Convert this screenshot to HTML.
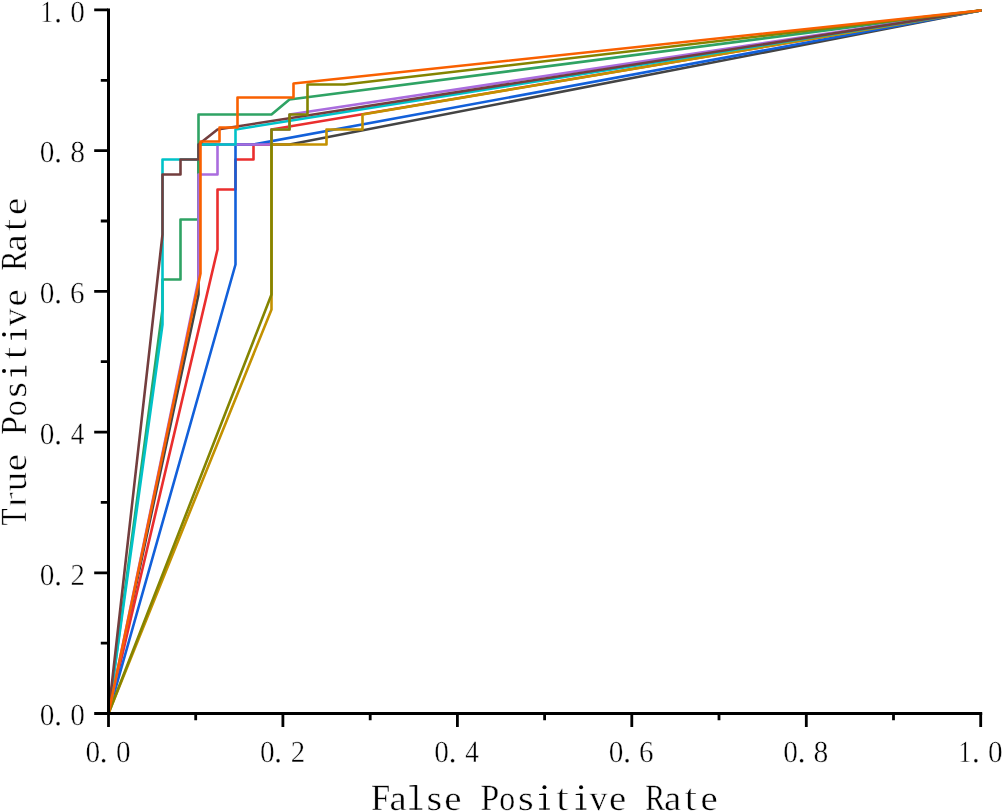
<!DOCTYPE html>
<html><head><meta charset="utf-8"><title>ROC</title>
<style>html,body{margin:0;padding:0;background:#fff;}svg{display:block;will-change:transform;}</style></head>
<body>
<svg width="1003" height="812" viewBox="0 0 1003 812">
<rect width="1003" height="812" fill="#fff"/>
<defs><clipPath id="pc"><rect x="108.5" y="0" width="900" height="713.5"/></clipPath></defs>
<g fill="none" stroke-width="2.6" stroke-linejoin="round" stroke-linecap="round" clip-path="url(#pc)">
<polyline stroke="#444444" points="108.5,713.5 198.5,294.5 198.5,144.5 289.5,144.5 980.5,10.5"/>
<polyline stroke="#EA2E2E" points="108.5,713.5 217.5,249.5 217.5,189.5 235.5,189.5 235.5,159.5 253.5,159.5 253.5,144.5 271.5,144.5 271.5,129.5 980.5,10.5"/>
<polyline stroke="#1260DA" points="108.5,713.5 235.5,264.5 235.5,144.5 253.5,144.5 980.5,10.5"/>
<polyline stroke="#2FA364" points="108.5,713.5 162.5,309.5 162.5,279.5 180.5,279.5 180.5,219.5 198.5,219.5 198.5,114.5 271.5,114.5 289.5,99.5 980.5,10.5"/>
<polyline stroke="#AA6CDE" points="108.5,713.5 198.5,279.5 198.5,174.5 217.5,174.5 217.5,144.5 271.5,144.5 271.5,129.5 289.5,129.5 289.5,114.5 980.5,10.5"/>
<polyline stroke="#C39100" points="108.5,713.5 271.5,309.5 271.5,144.5 326.5,144.5 326.5,129.5 362.5,129.5 362.5,114.5 980.5,10.5"/>
<polyline stroke="#00C2C8" points="108.5,713.5 162.5,324.5 162.5,159.5 198.5,159.5 198.5,144.5 235.5,144.5 235.5,129.5 980.5,10.5"/>
<polyline stroke="#733E3E" points="108.5,713.5 162.5,234.5 162.5,174.5 180.5,174.5 180.5,159.5 198.5,159.5 198.5,144.5 217.5,129.5 980.5,10.5"/>
<polyline stroke="#848400" points="108.5,713.5 271.5,294.5 271.5,129.5 289.5,129.5 289.5,114.5 307.5,114.5 307.5,84.5 344.5,84.5 980.5,10.5"/>
<polyline stroke="#F96000" points="108.5,713.5 200.5,273.5 200.5,141.5 219.5,141.5 219.5,127.5 237.5,127.5 237.5,97.5 293.5,97.5 293.5,83.5 980.5,10.5"/>
</g>
<g stroke="#000" fill="none">
<path stroke-width="3.0" d="M108.5,8.4 V715"/>
<path stroke-width="3.0" d="M107,713.5 H982.2"/>
<path stroke-width="2.8" d="M108.5,713 V727 M94.2,713.5 H108 M195.7,713 V720.3 M100.8,643.1 H108 M282.9,713 V727 M94.2,572.8 H108 M370.2,713 V720.3 M100.8,502.4 H108 M457.4,713 V727 M94.2,432.1 H108 M544.6,713 V720.3 M100.8,361.7 H108 M631.8,713 V727 M94.2,291.3 H108 M719.0,713 V720.3 M100.8,221.0 H108 M806.3,713 V727 M94.2,150.6 H108 M893.5,713 V720.3 M100.8,80.3 H108 M980.7,713 V727 M94.2,9.9 H108"/>
</g>
<g font-family="'Liberation Serif', serif" fill="#000" text-anchor="start" text-rendering="geometricPrecision">
<text transform="translate(85.49,761.90) scale(0.958,1)" font-size="30.6" stroke="#fff" stroke-width="0.4">0</text>
<text transform="translate(115.89,761.90) scale(0.958,1)" font-size="30.6" stroke="#fff" stroke-width="0.4">0</text>
<text transform="translate(99.87,761.90) scale(1.006,1)" font-size="30.6" stroke="#fff" stroke-width="0.2">.</text>
<text transform="translate(39.84,725.30) scale(0.958,1)" font-size="30.6" stroke="#fff" stroke-width="0.4">0</text>
<text transform="translate(70.24,725.30) scale(0.958,1)" font-size="30.6" stroke="#fff" stroke-width="0.4">0</text>
<text transform="translate(54.22,725.30) scale(1.006,1)" font-size="30.6" stroke="#fff" stroke-width="0.2">.</text>
<text transform="translate(259.93,761.90) scale(0.958,1)" font-size="30.6" stroke="#fff" stroke-width="0.4">0</text>
<text transform="translate(290.63,761.90) scale(0.940,1)" font-size="30.6" stroke="#fff" stroke-width="0.4">2</text>
<text transform="translate(274.31,761.90) scale(1.006,1)" font-size="30.6" stroke="#fff" stroke-width="0.2">.</text>
<text transform="translate(39.84,584.58) scale(0.958,1)" font-size="30.6" stroke="#fff" stroke-width="0.4">0</text>
<text transform="translate(70.53,584.58) scale(0.940,1)" font-size="30.6" stroke="#fff" stroke-width="0.4">2</text>
<text transform="translate(54.22,584.58) scale(1.006,1)" font-size="30.6" stroke="#fff" stroke-width="0.2">.</text>
<text transform="translate(434.37,761.90) scale(0.958,1)" font-size="30.6" stroke="#fff" stroke-width="0.4">0</text>
<text transform="translate(465.24,761.90) scale(0.889,1)" font-size="30.6" stroke="#fff" stroke-width="0.4">4</text>
<text transform="translate(448.75,761.90) scale(1.006,1)" font-size="30.6" stroke="#fff" stroke-width="0.2">.</text>
<text transform="translate(39.84,443.86) scale(0.958,1)" font-size="30.6" stroke="#fff" stroke-width="0.4">0</text>
<text transform="translate(70.71,443.86) scale(0.889,1)" font-size="30.6" stroke="#fff" stroke-width="0.4">4</text>
<text transform="translate(54.22,443.86) scale(1.006,1)" font-size="30.6" stroke="#fff" stroke-width="0.2">.</text>
<text transform="translate(608.81,761.90) scale(0.958,1)" font-size="30.6" stroke="#fff" stroke-width="0.4">0</text>
<text transform="translate(639.07,761.90) scale(0.951,1)" font-size="30.6" stroke="#fff" stroke-width="0.4">6</text>
<text transform="translate(623.19,761.90) scale(1.006,1)" font-size="30.6" stroke="#fff" stroke-width="0.2">.</text>
<text transform="translate(39.84,303.14) scale(0.958,1)" font-size="30.6" stroke="#fff" stroke-width="0.4">0</text>
<text transform="translate(70.10,303.14) scale(0.951,1)" font-size="30.6" stroke="#fff" stroke-width="0.4">6</text>
<text transform="translate(54.22,303.14) scale(1.006,1)" font-size="30.6" stroke="#fff" stroke-width="0.2">.</text>
<text transform="translate(783.25,761.90) scale(0.958,1)" font-size="30.6" stroke="#fff" stroke-width="0.4">0</text>
<text transform="translate(813.59,761.90) scale(0.966,1)" font-size="30.6" stroke="#fff" stroke-width="0.4">8</text>
<text transform="translate(797.63,761.90) scale(1.006,1)" font-size="30.6" stroke="#fff" stroke-width="0.2">.</text>
<text transform="translate(39.84,162.42) scale(0.958,1)" font-size="30.6" stroke="#fff" stroke-width="0.4">0</text>
<text transform="translate(70.18,162.42) scale(0.966,1)" font-size="30.6" stroke="#fff" stroke-width="0.4">8</text>
<text transform="translate(54.22,162.42) scale(1.006,1)" font-size="30.6" stroke="#fff" stroke-width="0.2">.</text>
<text transform="translate(958.39,761.90) scale(0.819,1)" font-size="30.6" stroke="#fff" stroke-width="0.4">1</text>
<text transform="translate(988.09,761.90) scale(0.958,1)" font-size="30.6" stroke="#fff" stroke-width="0.4">0</text>
<text transform="translate(972.07,761.90) scale(1.006,1)" font-size="30.6" stroke="#fff" stroke-width="0.2">.</text>
<text transform="translate(40.54,21.70) scale(0.819,1)" font-size="30.6" stroke="#fff" stroke-width="0.4">1</text>
<text transform="translate(70.24,21.70) scale(0.958,1)" font-size="30.6" stroke="#fff" stroke-width="0.4">0</text>
<text transform="translate(54.22,21.70) scale(1.006,1)" font-size="30.6" stroke="#fff" stroke-width="0.2">.</text>
<text transform="translate(371.00,809.60) scale(0.935,1)" font-size="36.9" stroke="#fff" stroke-width="0.4">F</text>
<text transform="translate(389.55,809.60) scale(1.106,1)" font-size="35" stroke="#fff" stroke-width="0.4">a</text>
<g transform="translate(407.35,809.60)"><rect x="7.35" y="-24.5" width="2.5" height="24.5"/><path d="M2.05,-24.1 L8.60,-24.6 V-23.2 H2.05Z"/><rect x="2.05" y="-1.15" width="12.90" height="1.15"/></g>
<text transform="translate(426.40,809.60) scale(1.148,1)" font-size="35" stroke="#fff" stroke-width="0.4">s</text>
<text transform="translate(444.34,809.60) scale(1.107,1)" font-size="35" stroke="#fff" stroke-width="0.4">e</text>
<text transform="translate(480.52,809.60) scale(0.914,1)" font-size="36.9" stroke="#fff" stroke-width="0.4">P</text>
<text transform="translate(499.19,809.60) scale(0.912,1)" font-size="35" stroke="#fff" stroke-width="0.4">o</text>
<text transform="translate(517.90,809.60) scale(1.148,1)" font-size="35" stroke="#fff" stroke-width="0.4">s</text>
<g transform="translate(535.45,809.60)"><rect x="8.05" y="-15.9" width="2.5" height="15.9"/><path d="M3.65,-15.5 L9.30,-16.0 V-14.6 H3.65Z"/><rect x="3.65" y="-1.15" width="10.70" height="1.15"/><circle cx="9.00" cy="-22.4" r="2.0"/></g>
<text transform="translate(555.56,809.60) scale(1.301,1)" font-size="38" stroke="#fff" stroke-width="0.9">t</text>
<g transform="translate(572.05,809.60)"><rect x="8.05" y="-15.9" width="2.5" height="15.9"/><path d="M3.65,-15.5 L9.30,-16.0 V-14.6 H3.65Z"/><rect x="3.65" y="-1.15" width="10.70" height="1.15"/><circle cx="9.00" cy="-22.4" r="2.0"/></g>
<text transform="translate(589.65,809.60) scale(0.988,1)" font-size="35.5" stroke="#fff" stroke-width="0.4">v</text>
<text transform="translate(609.04,809.60) scale(1.107,1)" font-size="35" stroke="#fff" stroke-width="0.4">e</text>
<text transform="translate(645.14,809.60) scale(0.805,1)" font-size="36.9" stroke="#fff" stroke-width="0.4">R</text>
<text transform="translate(664.05,809.60) scale(1.106,1)" font-size="35" stroke="#fff" stroke-width="0.4">a</text>
<text transform="translate(683.66,809.60) scale(1.301,1)" font-size="38" stroke="#fff" stroke-width="0.9">t</text>
<text transform="translate(700.54,809.60) scale(1.107,1)" font-size="35" stroke="#fff" stroke-width="0.4">e</text>
<text transform="translate(26.40,525.50) rotate(-90) scale(0.754,1)" font-size="36.9" stroke="#fff" stroke-width="0.4">T</text>
<text transform="translate(26.40,508.08) rotate(-90) scale(1.396,1)" font-size="35" stroke="#fff" stroke-width="0.9">r</text>
<text transform="translate(26.40,491.00) rotate(-90) scale(1.075,1)" font-size="35.5" stroke="#fff" stroke-width="0.4">u</text>
<text transform="translate(26.40,471.21) rotate(-90) scale(1.107,1)" font-size="35" stroke="#fff" stroke-width="0.4">e</text>
<text transform="translate(26.40,435.03) rotate(-90) scale(0.914,1)" font-size="36.9" stroke="#fff" stroke-width="0.4">P</text>
<text transform="translate(26.40,416.36) rotate(-90) scale(0.912,1)" font-size="35" stroke="#fff" stroke-width="0.4">o</text>
<text transform="translate(26.40,397.65) rotate(-90) scale(1.148,1)" font-size="35" stroke="#fff" stroke-width="0.4">s</text>
<g transform="translate(26.40,380.10) rotate(-90)"><rect x="8.05" y="-15.9" width="2.5" height="15.9"/><path d="M3.65,-15.5 L9.30,-16.0 V-14.6 H3.65Z"/><rect x="3.65" y="-1.15" width="10.70" height="1.15"/><circle cx="9.00" cy="-22.4" r="2.0"/></g>
<text transform="translate(26.40,359.99) rotate(-90) scale(1.301,1)" font-size="38" stroke="#fff" stroke-width="0.9">t</text>
<g transform="translate(26.40,343.50) rotate(-90)"><rect x="8.05" y="-15.9" width="2.5" height="15.9"/><path d="M3.65,-15.5 L9.30,-16.0 V-14.6 H3.65Z"/><rect x="3.65" y="-1.15" width="10.70" height="1.15"/><circle cx="9.00" cy="-22.4" r="2.0"/></g>
<text transform="translate(26.40,325.90) rotate(-90) scale(0.988,1)" font-size="35.5" stroke="#fff" stroke-width="0.4">v</text>
<text transform="translate(26.40,306.51) rotate(-90) scale(1.107,1)" font-size="35" stroke="#fff" stroke-width="0.4">e</text>
<text transform="translate(26.40,270.41) rotate(-90) scale(0.805,1)" font-size="36.9" stroke="#fff" stroke-width="0.4">R</text>
<text transform="translate(26.40,251.50) rotate(-90) scale(1.106,1)" font-size="35" stroke="#fff" stroke-width="0.4">a</text>
<text transform="translate(26.40,231.89) rotate(-90) scale(1.301,1)" font-size="38" stroke="#fff" stroke-width="0.9">t</text>
<text transform="translate(26.40,215.01) rotate(-90) scale(1.107,1)" font-size="35" stroke="#fff" stroke-width="0.4">e</text>
</g>
</svg>
</body></html>
